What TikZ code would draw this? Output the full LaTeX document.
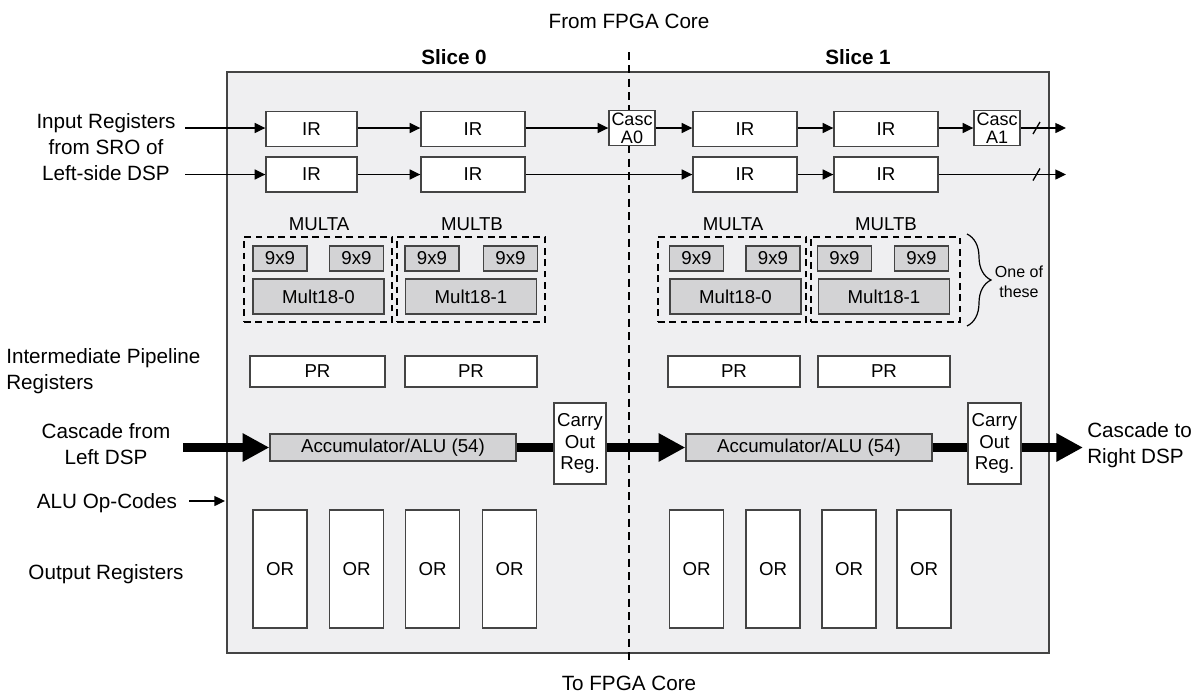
\documentclass[tikz,border=0pt]{standalone}
\usepackage{fontspec}
\setmainfont{Liberation Sans}
\usetikzlibrary{arrows.meta,decorations.pathreplacing}

\definecolor{slicebg}{RGB}{239,239,241}
\definecolor{unitgray}{RGB}{211,211,213}
\definecolor{edgegray}{RGB}{68,68,68}

\tikzset{
  reg/.style={draw=edgegray, line width=1pt, fill=white, inner sep=0pt, align=center, font=\fontsize{14}{16}\selectfont},
  unit/.style={reg, fill=unitgray},
  multgroup/.style={draw=black, dash pattern=on 5pt off 3.5pt, line width=0.9pt, inner sep=0pt},
  lbl/.style={inner sep=0pt, align=center, font=\fontsize{15.5}{19.5}\selectfont},
  thinarrow/.style={-{Triangle[length=8pt,width=7.5pt]}, line width=1pt},
  busarrow/.style={-{Triangle[length=20pt,width=20pt]}, line width=6.5pt},
}

\begin{document}
\begin{tikzpicture}[x=0.75pt,y=0.75pt,yscale=-1,xscale=1]
    \useasboundingbox (0,0) rectangle (1200,694);

    %DSP block [two slices]
    \draw[edgegray, line width=1.1pt, fill=slicebg] (227,72) rectangle (1049,653);
    %slice boundary
    \draw[dash pattern=on 6pt off 4pt, line width=1pt] (629,52) -- (629,665);

    % Text Node
    \node[lbl] (fromcore) at (629,21) {From FPGA Core};
    \node[lbl] (tocore) at (629,683) {To FPGA Core};
    \node[lbl, font=\fontsize{15.5}{19.5}\selectfont\bfseries] (slicezero) at (454,57) {Slice 0};
    \node[lbl, font=\fontsize{15.5}{19.5}\selectfont\bfseries] (sliceone) at (858,57) {Slice 1};
    \node[lbl] (inlbl) at (106,147) {Input Registers\\from SRO of\\Left-side DSP};
    \node[lbl, align=left, anchor=west] (pipelbl) at (6,371) {Intermediate Pipeline\\Registers};
    \node[lbl] (caslbl) at (106,444) {Cascade from\\Left DSP};
    \node[lbl] (oplbl) at (107,503) {ALU Op-Codes};
    \node[lbl] (outlbl) at (106,574) {Output Registers};
    \node[lbl, align=left, anchor=west] (casrlbl) at (1087,445) {Cascade to\\Right DSP};

    %Input registers, row A
    \node[reg, minimum width=68.25pt, minimum height=26.25pt] (irA0) at (311.5,129) {IR};
    \node[reg, minimum width=78pt, minimum height=26.25pt] (irA1) at (473,129) {IR};
    \node[reg, minimum width=34.5pt, minimum height=26.25pt, font=\fontsize{13.5}{13.5}\selectfont] (cascA0) at (632,128) {Casc\\A0};
    \node[reg, minimum width=78pt, minimum height=26.25pt] (irA2) at (745,129) {IR};
    \node[reg, minimum width=78pt, minimum height=26.25pt] (irA3) at (886,129) {IR};
    \node[reg, minimum width=34.5pt, minimum height=26.25pt, font=\fontsize{13.5}{13.5}\selectfont] (cascA1) at (997,128) {Casc\\A1};
    %Input registers, row B
    \node[reg, minimum width=68.25pt, minimum height=26.25pt] (irB0) at (311.5,174.5) {IR};
    \node[reg, minimum width=78pt, minimum height=26.25pt] (irB1) at (473,174.5) {IR};
    \node[reg, minimum width=78pt, minimum height=26.25pt] (irB2) at (745,174.5) {IR};
    \node[reg, minimum width=78pt, minimum height=26.25pt] (irB3) at (886,174.5) {IR};

    \coordinate (inA) at (185,128);
    \coordinate (inB) at (185,174.5);
    \coordinate (outA) at (1066,128);
    \coordinate (outB) at (1066,174.5);
    \draw[thinarrow] (inA) -- (irA0.west |- inA);
    \draw[thinarrow] (irA0.east |- inA) -- (irA1.west |- inA);
    \draw[thinarrow] (irA1.east |- inA) -- (cascA0.west |- inA);
    \draw[thinarrow] (cascA0.east |- inA) -- (irA2.west |- inA);
    \draw[thinarrow] (irA2.east |- inA) -- (irA3.west |- inA);
    \draw[thinarrow] (irA3.east |- inA) -- (cascA1.west |- inA);
    \draw[thinarrow] (cascA1.east |- inA) -- (outA);
    \draw[thinarrow] (inB) -- (irB0);
    \draw[thinarrow] (irB0) -- (irB1);
    \draw[thinarrow] (irB1) -- (irB2);
    \draw[thinarrow] (irB2) -- (irB3);
    \draw[thinarrow] (irB3) -- (outB);
    %bus width marks
    \draw[line width=1pt] (1033,134) -- (1040,122);
    \draw[line width=1pt] (1033,180.5) -- (1040,168.5);

    %Multipliers, slice 0
    \node[multgroup, minimum width=111pt, minimum height=63.75pt] (multA0) at (318,279.5) {};
    \node[multgroup, minimum width=111pt, minimum height=63.75pt] (multB0) at (471,279.5) {};
    \node[lbl, font=\fontsize{14}{16}\selectfont] (multA0lbl) at (319,224.5) {MULTA};
    \node[lbl, font=\fontsize{14}{16}\selectfont] (multB0lbl) at (472,224.5) {MULTB};
    \node[unit, minimum width=40.5pt, minimum height=18.75pt] (nineA0) at (280,258.5) {9x9};
    \node[unit, minimum width=40.5pt, minimum height=18.75pt] (nineA1) at (356.5,258.5) {9x9};
    \node[unit, minimum width=40.5pt, minimum height=18.75pt] (nineB0) at (432,258.5) {9x9};
    \node[unit, minimum width=40.5pt, minimum height=18.75pt] (nineB1) at (510.5,258.5) {9x9};
    \node[unit, minimum width=98.25pt, minimum height=26.25pt] (multzero) at (318.5,296.5) {Mult18-0};
    \node[unit, minimum width=98.25pt, minimum height=26.25pt] (multone) at (471,296.5) {Mult18-1};
    %Multipliers, slice 1
    \node[multgroup, minimum width=111pt, minimum height=63.75pt] (multA1) at (732,279.5) {};
    \node[multgroup, minimum width=111.75pt, minimum height=63.75pt] (multB1) at (885.5,279.5) {};
    \node[lbl, font=\fontsize{14}{16}\selectfont] (multA1lbl) at (733,224.5) {MULTA};
    \node[lbl, font=\fontsize{14}{16}\selectfont] (multB1lbl) at (886,224.5) {MULTB};
    \node[unit, minimum width=40.5pt, minimum height=18.75pt] (nineC0) at (696.5,258.5) {9x9};
    \node[unit, minimum width=40.5pt, minimum height=18.75pt] (nineC1) at (773,258.5) {9x9};
    \node[unit, minimum width=40.5pt, minimum height=18.75pt] (nineD0) at (844.5,258.5) {9x9};
    \node[unit, minimum width=40.5pt, minimum height=18.75pt] (nineD1) at (921.5,258.5) {9x9};
    \node[unit, minimum width=98.25pt, minimum height=26.25pt] (multtwo) at (735.5,296.5) {Mult18-0};
    \node[unit, minimum width=98.25pt, minimum height=26.25pt] (multthree) at (884,296.5) {Mult18-1};
    %One of these
    \draw[decorate, decoration={brace, amplitude=18pt}, line width=0.9pt] (967,234) -- (967,326);
    \node[lbl, font=\fontsize{12}{15}\selectfont] (oneof) at (1019,282) {One of\\these};

    %Pipeline registers
    \node[reg, minimum width=101.25pt, minimum height=23.25pt] (prA) at (317.5,371.5) {PR};
    \node[reg, minimum width=99pt, minimum height=23.25pt] (prB) at (471,371.5) {PR};
    \node[reg, minimum width=99pt, minimum height=23.25pt] (prC) at (734,371.5) {PR};
    \node[reg, minimum width=99pt, minimum height=23.25pt] (prD) at (884,371.5) {PR};

    %Accumulators and carry out
    \node[unit, minimum width=184.5pt, minimum height=20.25pt] (acczero) at (393,447.5) {Accumulator/ALU (54)};
    \node[reg, minimum width=39pt, minimum height=60.75pt] (carryzero) at (580,443.5) {Carry\\Out\\Reg.};
    \node[unit, minimum width=184.5pt, minimum height=20.25pt] (accone) at (809,447.5) {Accumulator/ALU (54)};
    \node[reg, minimum width=39.75pt, minimum height=60.75pt] (carryone) at (994.5,443.5) {Carry\\Out\\Reg.};
    \coordinate (casin) at (183,447.5);
    \coordinate (casout) at (1083,447.5);
    \draw[busarrow] (casin) -- (acczero);
    \draw[line width=6.5pt] (acczero.east) -- (carryzero.west |- acczero.east);
    \draw[busarrow] (carryzero.east |- acczero.east) -- (accone.west);
    \draw[line width=6.5pt] (accone.east) -- (carryone.west |- accone.east);
    \draw[busarrow] (carryone.east |- accone.east) -- (casout);
    \coordinate (opin) at (189,501);
    \coordinate (opend) at (225,501);
    \draw[thinarrow] (opin) -- (opend);

    %Output registers
    \foreach \x [count=\i] in {280,356.5,432.5,509.5,696.5,773,849,924}
        \node[reg, minimum width=40.5pt, minimum height=88.5pt] (or\i) at (\x,569) {OR};

\end{tikzpicture}
\end{document}
